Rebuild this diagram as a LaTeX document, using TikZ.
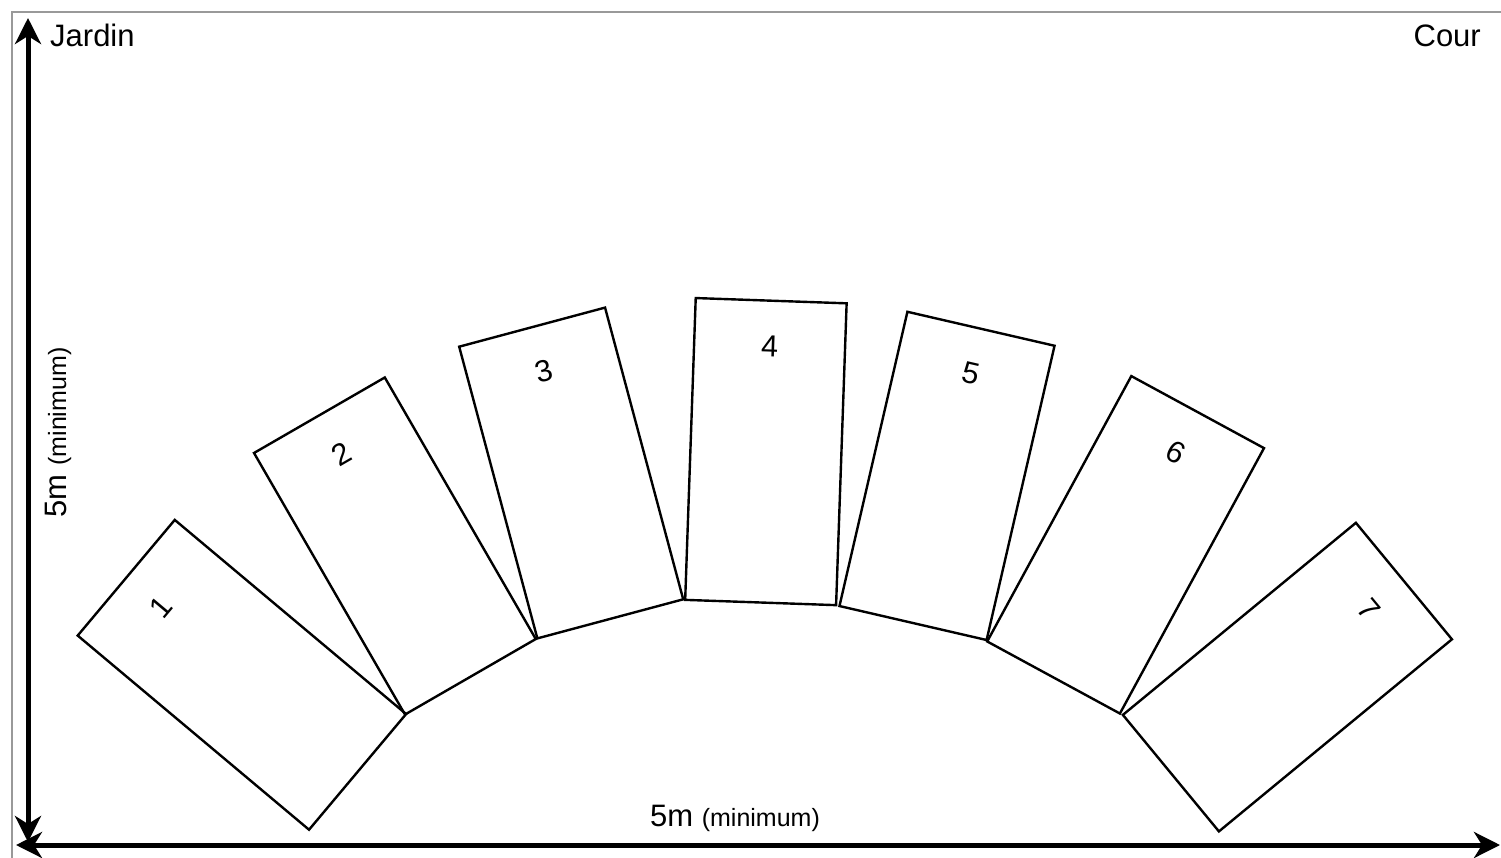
\documentclass[tikz,border=0pt]{standalone}
\usepackage{fontspec}
\setmainfont{Liberation Sans}
\usetikzlibrary{arrows.meta,calc}
\begin{document}
\begin{tikzpicture}[x=1pt,y=-1pt,
  seat/.style={draw, line width=2.4pt, minimum width=151pt, minimum height=302pt, inner sep=0pt},
  num/.style={inner sep=0pt, font=\fontsize{30.5}{36}\selectfont},
  lbl/.style={inner sep=0pt, font=\fontsize{31}{36}\selectfont},
  axis/.style={line width=5pt, {Stealth[length=26pt,width=26pt,inset=8pt]}-{Stealth[length=26pt,width=26pt,inset=8pt]}},
  frame/.style={draw=black!40, line width=2pt}
]
\useasboundingbox (0,0) rectangle (1501,858);
\draw[frame] (12,860) -- (12,12) -- (1503,12);

% seats
\node[seat, rotate=50]    (r1) at (241.9,674.8) {};
\node[seat, rotate=30]    (r2) at (394.9,546.0) {};
\node[seat, rotate=15]    (r3) at (571.2,473.0) {};
\node[seat, rotate=-2]    (r4) at (765.9,451.6) {};
\node[seat, rotate=-13]   (r5) at (947.0,475.9) {};
\node[seat, rotate=-28.5] (r6) at (1125.6,544.8) {};
\node[seat, rotate=-50.5] (r7) at (1287.4,677.1) {};

\node[num, rotate=50]    (n1) at ($(r1.center)!0.695!(r1.north)$) {1};
\node[num, rotate=30]    (n2) at ($(r2.center)!0.695!(r2.north)$) {2};
\node[num, rotate=15]    (n3) at ($(r3.center)!0.695!(r3.north)$) {3};
\node[num, rotate=-2]    (n4) at ($(r4.center)!0.695!(r4.north)$) {4};
\node[num, rotate=-13]   (n5) at ($(r5.center)!0.695!(r5.north)$) {5};
\node[num, rotate=-28.5] (n6) at ($(r6.center)!0.695!(r6.north)$) {6};
\node[num, rotate=-50.5] (n7) at ($(r7.center)!0.695!(r7.north)$) {7};

% axes
\coordinate (vtop) at (28,18);
\coordinate (vbot) at (28,842);
\coordinate (hleft) at (16,845);
\coordinate (hright) at (1500,845);
\draw[axis] (vtop) -- (vbot);
\draw[axis] (hleft) -- (hright);

% texts
\node[lbl, anchor=base west] (jardin) at (50,46.7) {Jardin};
\node[lbl, anchor=base east] (cour) at (1481,46.7) {Cour};
\node[lbl, anchor=base] (hdim) at (735,826) {5m {\fontsize{25}{28}\selectfont(minimum)}};
\node[lbl, anchor=base, rotate=90] (vdim) at (66,432.5) {5m {\fontsize{25}{28}\selectfont(minimum)}};
\end{tikzpicture}
\end{document}
